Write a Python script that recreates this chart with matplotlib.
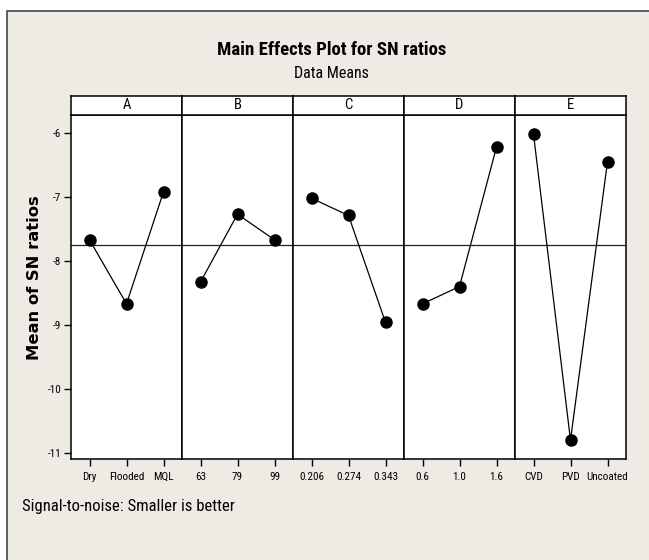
import matplotlib.pyplot as plt
from matplotlib.patches import Rectangle

# factors and levels
factors = ['A', 'B', 'C', 'D', 'E']
levels = [
    ['Dry', 'Flooded', 'MQL'],
    ['63', '79', '99'],
    ['0.206', '0.274', '0.343'],
    ['0.6', '1.0', '1.6'],
    ['CVD', 'PVD', 'Uncoated'],
]
# mean SN ratios
sn_means = [
    [-7.67, -8.67, -6.92],
    [-8.33, -7.27, -7.67],
    [-7.02, -7.29, -8.96],
    [-8.67, -8.40, -6.22],
    [-6.02, -10.80, -6.45],
]
grand_mean = -7.75
yticks = [-6, -7, -8, -9, -10, -11]

narrow = ['Roboto Condensed', 'DejaVu Sans']
W, H = 649, 560
bg = '#EEEAE4'

fig = plt.figure(figsize=(W / 100, H / 100), dpi=100)
fig.patch.set_facecolor('white')

# beige outer frame (only left and top edges are visible)
fig.patches.append(Rectangle((7 / W, -0.1), 1.2, 1 - 11 / H + 0.1, transform=fig.transFigure,
                             facecolor=bg, edgecolor='#444444', linewidth=1.2, zorder=-5))

fig.text(332 / W, 1 - 50 / H, 'Main Effects Plot for SN ratios', family=narrow,
         fontsize=13.5, fontweight='bold', ha='center', va='center')
fig.text(331 / W, 1 - 73 / H, 'Data Means', family=narrow, fontsize=11.5,
         ha='center', va='center')
fig.text(35 / W, 1 - 278 / H, 'Mean of SN ratios', family='DejaVu Sans',
         fontsize=11.8, fontweight='bold', rotation=90, ha='center', va='center')
fig.text(22 / W, 1 - 506 / H, 'Signal-to-noise: Smaller is better', family=narrow,
         fontsize=12, ha='left', va='center')

edges = [71, 182, 293, 404, 515, 626]
y_bot, y_top, y_strip = 459, 115, 96

for i, f in enumerate(factors):
    x0, x1 = edges[i], edges[i + 1]
    ax = fig.add_axes([x0 / W, 1 - y_bot / H, (x1 - x0) / W, (y_bot - y_top) / H])
    ax.set_facecolor('white')
    xs = range(len(levels[i]))
    ax.axhline(grand_mean, color='#222222', linewidth=0.9, zorder=1)
    ax.plot(xs, sn_means[i], color='black', linewidth=0.9, marker='o',
            markersize=8, zorder=3)
    ax.set_xlim(-0.5, 2.5)
    ax.set_ylim(-11.094, -5.72)
    ax.set_xticks(list(xs))
    ax.set_xticklabels(levels[i], family=narrow, fontsize=8)
    ax.set_yticks(yticks)
    ax.set_yticklabels([str(t) for t in yticks], family=narrow, fontsize=8)
    ax.tick_params(direction='out', length=5, width=1, pad=2)
    ax.tick_params(axis='x', pad=4)
    if i > 0:
        ax.tick_params(axis='y', left=False, labelleft=False)
    for s in ax.spines.values():
        s.set_linewidth(1.1)

    sx = fig.add_axes([x0 / W, 1 - y_top / H, (x1 - x0) / W, (y_top - y_strip) / H])
    sx.set_facecolor('white')
    sx.set_xticks([])
    sx.set_yticks([])
    for s in sx.spines.values():
        s.set_linewidth(1.1)
    sx.text(0.5, 0.5, f, family=narrow, fontsize=10.5, ha='center', va='center',
            transform=sx.transAxes)

fig.savefig('out.png', dpi=100, facecolor=fig.get_facecolor())
